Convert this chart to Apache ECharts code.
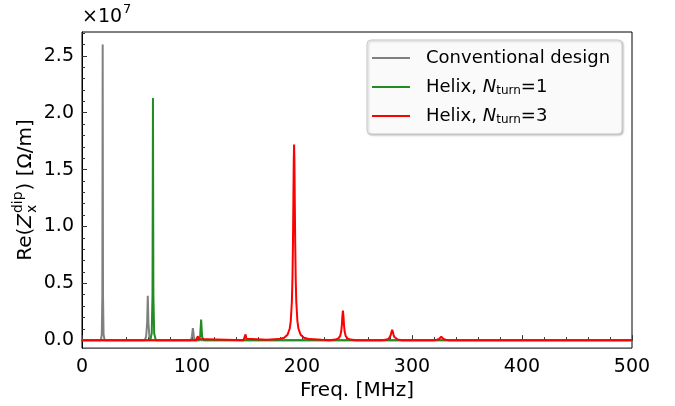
<!DOCTYPE html>
<html>
<head>
<meta charset="utf-8">
<script src="https://cdn.jsdelivr.net/npm/echarts@6/dist/echarts.min.js"></script>
<style>
  html, body { margin: 0; padding: 0; background: #fff; }
  #chart { width: 675px; height: 406px; }
</style>
</head>
<body>
<div id="chart"></div>
<script>
// Re(Z_x^dip) in units of 1e7 Ω/m, frequency in MHz

// Conventional design
const convFreq = [0, 17.1, 18.0, 18.5, 18.8, 19.1, 19.6, 20.6,
  57.0, 58.3, 59.2, 59.8, 60.4, 61.3, 62.5,
  98.9, 99.9, 100.8, 101.7, 102.7, 500];
const convRe = [0, 0, 0.05, 0.4, 2.60, 0.4, 0.05, 0,
  0, 0.03, 0.15, 0.39, 0.15, 0.03, 0,
  0, 0.03, 0.105, 0.03, 0, 0];

// Helix, N_turn = 1
const helix1Freq = [0, 62.1, 63.4, 64.1, 64.5, 64.9, 65.6, 67.1,
  106.1, 107.4, 108.3, 109.2, 110.6, 500];
const helix1Re = [0, 0, 0.06, 0.4, 2.13, 0.4, 0.06, 0,
  0, 0.03, 0.18, 0.03, 0, 0];

// Helix, N_turn = 3
const helix3Freq = [0,
  103.8, 104.6, 105.3, 106.0, 106.8,
  146.8, 147.9, 148.7, 149.5, 150.8,
  167.8, 178.8, 183.8, 186.8, 188.8, 189.8, 190.8, 191.3, 191.8, 192.2, 192.5,
  192.8,
  193.1, 193.4, 193.8, 194.3, 194.8, 195.8, 196.8, 198.8, 201.8, 206.8, 217.8,
  225.2, 230.2, 233.2, 234.7, 235.7, 236.2, 236.7, 237.2, 237.7, 238.2, 238.7, 239.7, 241.2, 244.2, 249.2,
  273.0, 277.0, 279.0, 280.0, 280.7, 281.3, 282.0, 282.7, 283.3, 284.0, 285.0, 287.0, 291.0,
  319.6, 322.6, 324.6, 325.6, 326.6, 327.6, 328.6, 330.6, 333.6,
  500];
const helix3Re = [0,
  0, 0.01, 0.035, 0.01, 0,
  0, 0.012, 0.05, 0.012, 0,
  0.003, 0.009, 0.021, 0.047, 0.10, 0.17, 0.34, 0.53, 0.86, 1.26, 1.58,
  1.72,
  1.58, 1.26, 0.86, 0.53, 0.34, 0.17, 0.10, 0.047, 0.021, 0.009, 0.003,
  0, 0.005, 0.016, 0.037, 0.08, 0.13, 0.21, 0.26, 0.21, 0.13, 0.08, 0.037, 0.016, 0.005, 0,
  0, 0.005, 0.014, 0.027, 0.045, 0.07, 0.09, 0.07, 0.045, 0.027, 0.014, 0.005, 0,
  0, 0.003, 0.01, 0.02, 0.03, 0.02, 0.01, 0.003, 0,
  0];

const seriesNames = ['Conventional design', 'Helix, N_turn=1', 'Helix, N_turn=3'];
const yMajorTicks = [0, 0.5, 1.0, 1.5, 2.0, 2.5];
const yMinorTicks = [];
for (let i = 1; i <= 27; i++) {
  if (i % 5 !== 0) yMinorTicks.push(+(i * 0.1).toFixed(1));
}

const FONT = 'DejaVu Sans';
const zip = (xs, ys) => xs.map((x, i) => [x, ys[i]]);

const chart = echarts.init(document.getElementById('chart'), null, { renderer: 'canvas' });

// text widths for laying out the rotated y-axis title
const measureCtx = document.createElement('canvas').getContext('2d');
function textWidth(s, size, italic) {
  measureCtx.font = (italic ? 'italic ' : '') + size + 'px "' + FONT + '"';
  return measureCtx.measureText(s).width;
}

const T = 20, S = 14;
const wRe = textWidth('Re(', T);
const wZ = textWidth('Z', T, true);
const wScript = Math.max(textWidth('dip', S), textWidth('x', S));
const wTail = textWidth(') [Ω/m]', T);
const titleLen = wRe + wZ + 1 + wScript + 1 + wTail;
const xSub = wRe + wZ + 1;
const xTail = xSub + wScript + 1;

const baseText = { fontFamily: FONT, fill: '#000', verticalAlign: 'middle', align: 'left' };

const yTitle = {
  type: 'group',
  x: 26, y: 190 + titleLen / 2,
  rotation: Math.PI / 2,
  children: [
    { type: 'text', x: 0, y: 0, style: Object.assign({}, baseText, { text: 'Re(', fontSize: T }) },
    { type: 'text', x: wRe, y: 0, style: Object.assign({}, baseText, { text: 'Z', fontSize: T, fontStyle: 'italic' }) },
    { type: 'text', x: xSub, y: -8, style: Object.assign({}, baseText, { text: 'dip', fontSize: S }) },
    { type: 'text', x: xSub, y: 6, style: Object.assign({}, baseText, { text: 'x', fontSize: S }) },
    { type: 'text', x: xTail, y: 0, style: Object.assign({}, baseText, { text: ') [Ω/m]', fontSize: T }) }
  ]
};

const offsetText = [
  { type: 'text', left: 82, top: 8, style: { text: '×10', fontFamily: FONT, fontSize: 19, fill: '#000' } },
  { type: 'text', left: 123, top: 3, style: { text: '7', fontFamily: FONT, fontSize: 13, fill: '#000' } }
];

const legendText = {
  'Conventional design': 'Conventional design',
  'Helix, N_turn=1': 'Helix, {i|N}{sub|turn}=1',
  'Helix, N_turn=3': 'Helix, {i|N}{sub|turn}=3'
};

const colors = ['#808080', '#228B22', '#ff0000'];
const dataSets = [zip(convFreq, convRe), zip(helix1Freq, helix1Re), zip(helix3Freq, helix3Re)];

const option = {
  animation: false,
  backgroundColor: '#fff',
  grid: {
    left: 82, right: 43, top: 32, bottom: 57,
    show: true, borderColor: '#000', borderWidth: 1, backgroundColor: 'transparent'
  },
  legend: {
    orient: 'vertical',
    left: 367, top: 40,
    padding: [8, 12, 8, 5],
    itemWidth: 38, itemHeight: 2, itemGap: 9,
    icon: 'rect',
    backgroundColor: 'rgba(255,255,255,0.9)',
    borderColor: '#cccccc', borderWidth: 1, borderRadius: 4,
    shadowColor: 'rgba(0,0,0,0.25)', shadowBlur: 2, shadowOffsetX: 1, shadowOffsetY: 1,
    formatter: name => legendText[name],
    textStyle: {
      fontFamily: FONT, fontSize: 18, color: '#000', lineHeight: 20, padding: [0, 0, 0, 11],
      rich: {
        i: { fontFamily: FONT, fontSize: 18, fontStyle: 'italic', color: '#000', lineHeight: 20 },
        sub: { fontFamily: FONT, fontSize: 12, color: '#000', lineHeight: 10, verticalAlign: 'bottom' }
      }
    },
    data: seriesNames
  },
  xAxis: {
    type: 'value', min: 0, max: 500, interval: 100,
    name: 'Freq. [MHz]', nameLocation: 'middle', nameGap: 30,
    nameTextStyle: { fontFamily: FONT, fontSize: 20, color: '#000' },
    axisLine: { show: true, lineStyle: { color: '#000', width: 1 } },
    axisTick: { show: true, inside: true, length: 5, lineStyle: { color: '#333' } },
    minorTick: { show: true, splitNumber: 5, length: 3, lineStyle: { color: '#333' } },
    axisLabel: { fontFamily: FONT, fontSize: 19, color: '#000', margin: 9 },
    splitLine: { show: false }
  },
  yAxis: [
    {
      type: 'value', min: -0.07, max: 2.71,
      axisLine: { show: true, onZero: false, lineStyle: { color: '#000', width: 1 } },
      axisTick: { show: true, inside: true, length: 5, customValues: yMajorTicks, lineStyle: { color: '#333' } },
      axisLabel: {
        fontFamily: FONT, fontSize: 19, color: '#000', margin: 8,
        customValues: yMajorTicks,
        formatter: v => v.toFixed(1)
      },
      splitLine: { show: false }
    },
    {
      type: 'value', min: -0.07, max: 2.71, position: 'left',
      axisLine: { show: false, onZero: false },
      axisTick: { show: true, inside: true, length: 3, customValues: yMinorTicks, lineStyle: { color: '#333' } },
      axisLabel: { show: false },
      splitLine: { show: false }
    }
  ],
  series: seriesNames.map((name, i) => ({
    name,
    type: 'line',
    xAxisIndex: 0, yAxisIndex: 0,
    data: dataSets[i],
    showSymbol: false,
    symbol: 'none',
    lineStyle: { color: colors[i], width: 2 },
    itemStyle: { color: colors[i] },
    z: 2 + i
  })),
  graphic: [yTitle].concat(offsetText)
};

chart.setOption(option);
</script>
</body>
</html>
